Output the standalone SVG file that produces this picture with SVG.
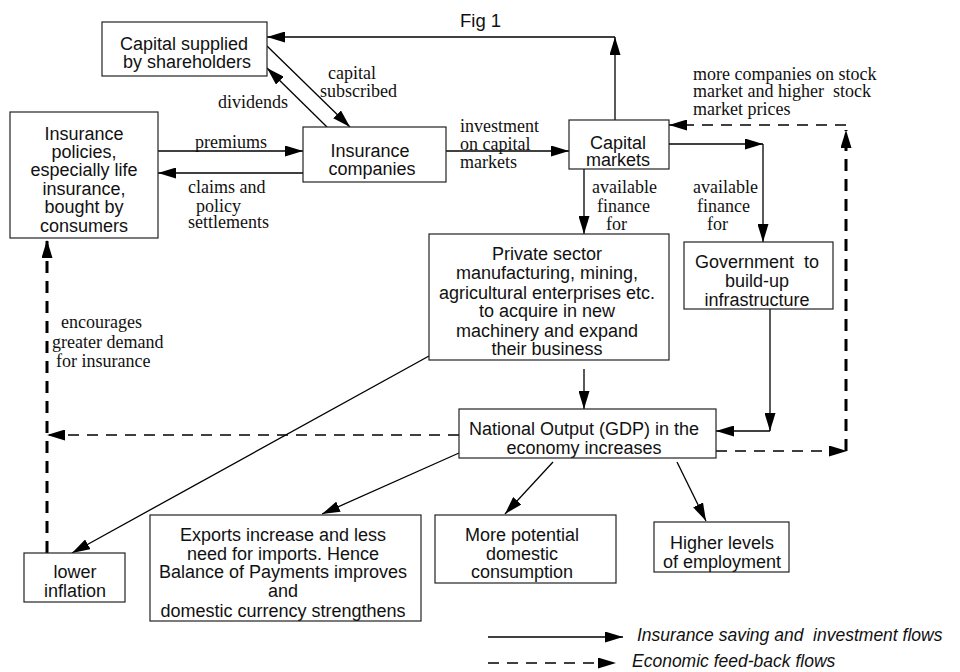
<svg xmlns="http://www.w3.org/2000/svg" width="960" height="672" viewBox="0 0 960 672">
<style>
.box{fill:#fff;stroke:#222;stroke-width:1.2}
.nt{font-family:"Liberation Sans",Arial,sans-serif;font-size:18px;fill:#111;text-anchor:middle}
.lb{font-family:"Liberation Serif","Times New Roman",serif;font-size:18px;fill:#111}
.lg{font-family:"Liberation Sans",Arial,sans-serif;font-size:17.5px;font-style:italic;fill:#111}
.c{fill:none;stroke:#000;stroke-width:1.3;marker-end:url(#ah)}
.d{fill:none;stroke:#000;stroke-width:1.3;stroke-dasharray:11 8;marker-end:url(#ah)}
.dt{fill:none;stroke:#000;stroke-width:3;stroke-dasharray:12 8;marker-end:url(#ah)}
</style>
<defs>
<marker id="ah" viewBox="0 0 18 11" refX="18" refY="5.5" markerWidth="18" markerHeight="11" markerUnits="userSpaceOnUse" orient="auto">
<path d="M0,0 L18,5.5 L0,11 z" fill="#000"/>
</marker>
</defs>
<rect width="960" height="672" fill="#fff"/>
<text x="460" y="27" font-family="Liberation Sans,Arial,sans-serif" font-size="18.5" fill="#111">Fig 1</text>

<g id="connectors">
<path class="c" d="M267,46 L350,127"/>
<path class="c" d="M327,127 L267,68"/>
<path class="c" d="M158,151 L303,151"/>
<path class="c" d="M303,173 L158,173"/>
<path class="c" d="M446,151 L569,151"/>
<path class="c" d="M615,120 L615,37"/>
<path class="c" d="M615,37 L267,37"/>
<path class="c" d="M584,169 L584,234"/>
<path class="c" d="M669,144 L763,144"/>
<path class="c" d="M763,144 L763,242"/>
<path class="c" d="M770,309 L770,431"/>
<path class="c" d="M770,431 L716,431"/>
<path class="c" d="M584,369 L584,409"/>
<path class="c" d="M429,356 L72,553"/>
<path class="c" d="M459,453 L322,514"/>
<path class="c" d="M553,462 L505,514"/>
<path class="c" d="M677,462 L706,521"/>
<path class="d" d="M716,451 L847,451"/>
<path class="dt" d="M846,451 L846,130"/>
<path class="d" d="M846,125 L669,125"/>
<path class="d" d="M459,435 L47,435"/>
<path class="dt" d="M47,553 L47,240"/>
<path class="c" d="M488,637 L623,637"/>
<path class="d" d="M488,663 L616,663"/>
</g>

<g id="labels">
<text class="lb" x="328" y="79">capital</text>
<text class="lb" x="320" y="97">subscribed</text>
<text class="lb" x="218" y="108">dividends</text>
<text class="lb" x="195" y="148">premiums</text>
<text class="lb" x="188" y="193">claims and</text>
<text class="lb" x="196" y="212">policy</text>
<text class="lb" x="188" y="228">settlements</text>
<text class="lb" x="460" y="132">investment</text>
<text class="lb" x="460" y="150">on capital</text>
<text class="lb" x="460" y="168">markets</text>
<text class="lb" x="592" y="193">available</text>
<text class="lb" x="597" y="212">finance</text>
<text class="lb" x="606" y="230">for</text>
<text class="lb" x="693" y="193">available</text>
<text class="lb" x="697" y="212">finance</text>
<text class="lb" x="707" y="230">for</text>
<text class="lb" x="693" y="80">more companies on stock</text>
<text class="lb" x="693" y="97" xml:space="preserve">market and higher  stock</text>
<text class="lb" x="693" y="115">market prices</text>
<text class="lb" x="61" y="328">encourages</text>
<text class="lb" x="52" y="348">greater demand</text>
<text class="lb" x="56" y="367">for insurance</text>
<text class="lg" x="637" y="641" xml:space="preserve">Insurance saving and  investment flows</text>
<text class="lg" x="632" y="667">Economic feed-back flows</text>
</g>

<g id="shareholders">
<rect class="box" x="102" y="22" width="165" height="54"/>
<text class="nt" x="184" y="50">Capital supplied</text>
<text class="nt" x="187" y="68">by shareholders</text>
</g>
<g id="policies">
<rect class="box" x="10" y="112" width="148" height="126"/>
<text class="nt" x="84" y="140">Insurance</text>
<text class="nt" x="84" y="158">policies,</text>
<text class="nt" x="84" y="176">especially life</text>
<text class="nt" x="84" y="195">insurance,</text>
<text class="nt" x="84" y="213">bought by</text>
<text class="nt" x="84" y="232">consumers</text>
</g>
<g id="companies">
<rect class="box" x="303" y="127" width="143" height="55"/>
<text class="nt" x="370" y="157">Insurance</text>
<text class="nt" x="372" y="175">companies</text>
</g>
<g id="capital-markets">
<rect class="box" x="569" y="120" width="100" height="49"/>
<text class="nt" x="618" y="149">Capital</text>
<text class="nt" x="618" y="166">markets</text>
</g>
<g id="private-sector">
<rect class="box" x="429" y="234" width="240" height="126"/>
<text class="nt" x="547" y="260">Private sector</text>
<text class="nt" x="547" y="279">manufacturing, mining,</text>
<text class="nt" x="547" y="299">agricultural enterprises etc.</text>
<text class="nt" x="547" y="317">to acquire in new</text>
<text class="nt" x="547" y="337">machinery and expand</text>
<text class="nt" x="547" y="355">their business</text>
</g>
<g id="government">
<rect class="box" x="684" y="242" width="149" height="67"/>
<text class="nt" x="757" y="268" xml:space="preserve">Government  to</text>
<text class="nt" x="757" y="287">build-up</text>
<text class="nt" x="757" y="306">infrastructure</text>
</g>
<g id="national-output">
<rect class="box" x="459" y="409" width="257" height="49"/>
<text class="nt" x="584" y="435">National Output (GDP) in the</text>
<text class="nt" x="584" y="454">economy increases</text>
</g>
<g id="lower-inflation">
<rect class="box" x="24" y="553" width="101" height="49"/>
<text class="nt" x="75" y="578">lower</text>
<text class="nt" x="75" y="597">inflation</text>
</g>
<g id="exports">
<rect class="box" x="150" y="515" width="271" height="106"/>
<text class="nt" x="283" y="541">Exports increase and less</text>
<text class="nt" x="283" y="560">need for imports. Hence</text>
<text class="nt" x="283" y="578">Balance of Payments improves</text>
<text class="nt" x="283" y="597">and</text>
<text class="nt" x="283" y="617">domestic currency strengthens</text>
</g>
<g id="consumption">
<rect class="box" x="435" y="515" width="181" height="68"/>
<text class="nt" x="522" y="541">More potential</text>
<text class="nt" x="522" y="560">domestic</text>
<text class="nt" x="522" y="578">consumption</text>
</g>
<g id="employment">
<rect class="box" x="654" y="522" width="135" height="50"/>
<text class="nt" x="722" y="549">Higher levels</text>
<text class="nt" x="722" y="568">of employment</text>
</g>
</svg>
